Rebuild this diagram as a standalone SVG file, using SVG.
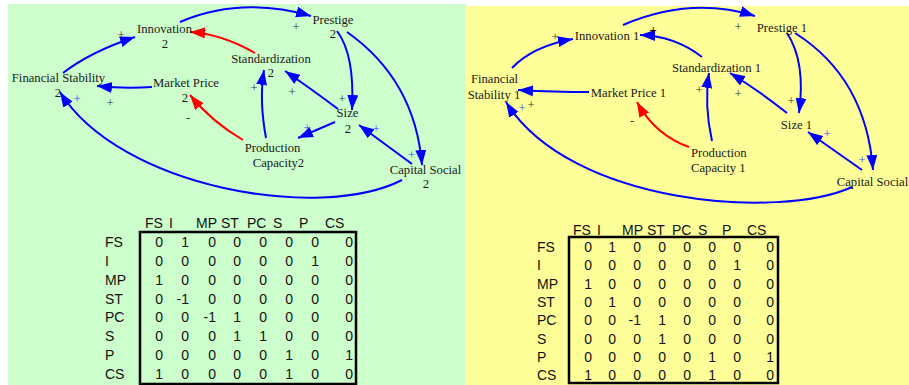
<svg xmlns="http://www.w3.org/2000/svg" width="909" height="385" viewBox="0 0 909 385">
<style>
.lbl{font-family:"Liberation Serif","Times New Roman",serif;font-size:12.7px;fill:#1a1a1a;text-anchor:middle}
.pm{font-family:"Liberation Serif","Times New Roman",serif;font-size:12.7px;fill:#333;text-anchor:middle}
.pmb{font-family:"Liberation Serif","Times New Roman",serif;font-size:12.7px;fill:#3a3aff;text-anchor:middle}
.b{fill:none;stroke:#0000ff;stroke-width:2;marker-end:url(#ab)}
.r{fill:none;stroke:#ff0000;stroke-width:2;marker-end:url(#ar)}
.mx{font-family:"Liberation Sans",Arial,sans-serif;font-size:14px;fill:#111}
.num tspan{text-anchor:end}
.box{fill:none;stroke:#000;stroke-width:2.5}
</style>
<defs>
<marker id="ab" markerUnits="userSpaceOnUse" markerWidth="15" markerHeight="11" refX="15" refY="5.5" orient="auto"><path d="M0,0 L15,5.5 L0,11 z" fill="#0000ff"/></marker>
<marker id="ar" markerUnits="userSpaceOnUse" markerWidth="15" markerHeight="11" refX="15" refY="5.5" orient="auto"><path d="M0,0 L15,5.5 L0,11 z" fill="#ff0000"/></marker>
</defs>
<rect x="0" y="0" width="909" height="385" fill="#ffffff"/>
<rect x="8" y="4" width="458" height="381" fill="#ccffcc"/>
<rect x="465" y="6" width="444" height="379" fill="#ffff99"/>

<!-- LEFT DIAGRAM -->
<g id="left-connectors">
<path class="b" d="M63,73 Q90,52 135,37"/>
<path class="b" d="M152,87 Q125,89 97,86"/>
<path class="r" d="M255,53 Q222,34 190,32"/>
<path class="b" d="M180,22 Q241,-4 311,16"/>
<path class="b" d="M337,31 Q355,55 352,110"/>
<path class="b" d="M347,32 Q415,80 422,165"/>
<path class="b" d="M338,109 Q310,88 285,71"/>
<path class="b" d="M266,138 Q259,100 264,70"/>
<path class="b" d="M335,122 L298,138"/>
<path class="r" d="M243,140 Q212,122 190,95"/>
<path class="b" d="M412,164 L359,125"/>
<path class="b" d="M402,180 C320,222 120,188 60,92"/>
</g>
<g id="l-innovation"><text class="lbl" x="164.5" y="33">Innovation</text><text class="lbl" x="165" y="48">2</text></g>
<g id="l-financial-stability"><text class="lbl" x="58.5" y="82">Financial Stability</text><text class="lbl" x="58" y="97">2</text></g>
<g id="l-market-price"><text class="lbl" x="186" y="87">Market Price</text><text class="lbl" x="185" y="102">2</text></g>
<g id="l-prestige"><text class="lbl" x="333" y="24">Prestige</text><text class="lbl" x="333" y="38">2</text></g>
<g id="l-standardization"><text class="lbl" x="271" y="63">Standardization</text><text class="lbl" x="271" y="77">2</text></g>
<g id="l-size"><text class="lbl" x="347.5" y="117">Size</text><text class="lbl" x="348" y="133">2</text></g>
<g id="l-production-capacity"><text class="lbl" x="272.5" y="152">Production</text><text class="lbl" x="278.5" y="167">Capacity2</text></g>
<g id="l-capital-social"><text class="lbl" x="425.5" y="174">Capital Social</text><text class="lbl" x="426" y="188">2</text></g>
<g id="l-signs">
<text class="pm" x="121" y="39">+</text>
<text class="pm" x="204" y="33">-</text>
<text class="pm" x="296" y="31">+</text>
<text class="pm" x="254" y="92">+</text>
<text class="pm" x="292" y="96">+</text>
<text class="pm" x="342" y="103">+</text>
<text class="pm" x="110" y="107">+</text>
<text class="pmb" x="77" y="103">+</text>
<text class="pm" x="188" y="121">-</text>
<text class="pmb" x="307" y="132">+</text>
<text class="pmb" x="376" y="133">+</text>
<text class="pmb" x="411.5" y="159">+</text>
</g>

<!-- RIGHT DIAGRAM -->
<g id="right-connectors">
<path class="b" d="M512,68 Q533,46 573,39"/>
<path class="b" d="M589,92 Q555,92 518,90"/>
<path class="b" d="M702,57 Q675,36 640,35"/>
<path class="b" d="M623,25 Q691,-4 755,16"/>
<path class="b" d="M787,33 Q806,62 799,113"/>
<path class="b" d="M795,33 Q866,78 873,170"/>
<path class="b" d="M787,113 Q758,90 730,73"/>
<path class="b" d="M712,141 Q704,105 709,73"/>
<path class="r" d="M689,147 Q655,135 637,102"/>
<path class="b" d="M862,170 L808,132"/>
<path class="b" d="M852,187 C780,220 570,205 506,102"/>
</g>
<g id="r-innovation"><text class="lbl" x="607" y="40">Innovation 1</text></g>
<g id="r-financial-stability"><text class="lbl" x="494.5" y="83">Financial</text><text class="lbl" x="494" y="99">Stability 1</text></g>
<g id="r-market-price"><text class="lbl" x="628.5" y="97">Market Price 1</text></g>
<g id="r-prestige"><text class="lbl" x="782" y="32">Prestige 1</text></g>
<g id="r-standardization"><text class="lbl" x="716.5" y="72">Standardization 1</text></g>
<g id="r-size"><text class="lbl" x="796.5" y="129">Size 1</text></g>
<g id="r-production-capacity"><text class="lbl" x="691" y="157" style="text-anchor:start">Production</text><text class="lbl" x="691" y="172" style="text-anchor:start">Capacity 1</text></g>
<g id="r-capital-social"><text class="lbl" x="872.5" y="186">Capital Social</text></g>
<g id="r-signs">
<text class="pm" x="555" y="41">+</text>
<text class="pm" x="653" y="34" style="font-weight:bold;fill:#111">+</text>
<text class="pm" x="738" y="31">+</text>
<text class="pmb" x="522" y="112">+</text>
<text class="pm" x="531" y="109">+</text>
<text class="pm" x="632" y="124">-</text>
<text class="pm" x="699" y="94">+</text>
<text class="pm" x="738" y="98">+</text>
<text class="pm" x="791" y="105">+</text>
<text class="pmb" x="827" y="138">+</text>
<text class="pmb" x="862" y="164">+</text>
</g>

<!-- LEFT MATRIX -->
<g id="left-matrix" class="mx">
<rect class="box" x="140" y="232" width="216" height="152"/>
<text y="228"><tspan x="145">FS</tspan><tspan x="169">I</tspan><tspan x="196">MP</tspan><tspan x="221">ST</tspan><tspan x="247">PC</tspan><tspan x="273">S</tspan><tspan x="299">P</tspan><tspan x="325">CS</tspan></text>
<text x="105" y="247">FS</text>
<text x="105" y="265.9">I</text>
<text x="105" y="284.7">MP</text>
<text x="105" y="303.6">ST</text>
<text x="105" y="322.4">PC</text>
<text x="105" y="341.3">S</text>
<text x="105" y="360.2">P</text>
<text x="105" y="379">CS</text>
<text class="num" y="247"><tspan x="163">0</tspan><tspan x="189">1</tspan><tspan x="216">0</tspan><tspan x="241">0</tspan><tspan x="267">0</tspan><tspan x="293">0</tspan><tspan x="319">0</tspan><tspan x="353">0</tspan></text>
<text class="num" y="265.9"><tspan x="163">0</tspan><tspan x="189">0</tspan><tspan x="216">0</tspan><tspan x="241">0</tspan><tspan x="267">0</tspan><tspan x="293">0</tspan><tspan x="319">1</tspan><tspan x="353">0</tspan></text>
<text class="num" y="284.7"><tspan x="163">1</tspan><tspan x="189">0</tspan><tspan x="216">0</tspan><tspan x="241">0</tspan><tspan x="267">0</tspan><tspan x="293">0</tspan><tspan x="319">0</tspan><tspan x="353">0</tspan></text>
<text class="num" y="303.6"><tspan x="163">0</tspan><tspan x="189">-1</tspan><tspan x="216">0</tspan><tspan x="241">0</tspan><tspan x="267">0</tspan><tspan x="293">0</tspan><tspan x="319">0</tspan><tspan x="353">0</tspan></text>
<text class="num" y="322.4"><tspan x="163">0</tspan><tspan x="189">0</tspan><tspan x="216">-1</tspan><tspan x="241">1</tspan><tspan x="267">0</tspan><tspan x="293">0</tspan><tspan x="319">0</tspan><tspan x="353">0</tspan></text>
<text class="num" y="341.3"><tspan x="163">0</tspan><tspan x="189">0</tspan><tspan x="216">0</tspan><tspan x="241">1</tspan><tspan x="267">1</tspan><tspan x="293">0</tspan><tspan x="319">0</tspan><tspan x="353">0</tspan></text>
<text class="num" y="360.2"><tspan x="163">0</tspan><tspan x="189">0</tspan><tspan x="216">0</tspan><tspan x="241">0</tspan><tspan x="267">0</tspan><tspan x="293">1</tspan><tspan x="319">0</tspan><tspan x="353">1</tspan></text>
<text class="num" y="379"><tspan x="163">1</tspan><tspan x="189">0</tspan><tspan x="216">0</tspan><tspan x="241">0</tspan><tspan x="267">0</tspan><tspan x="293">1</tspan><tspan x="319">0</tspan><tspan x="353">0</tspan></text>
</g>

<!-- RIGHT MATRIX -->
<g id="right-matrix" class="mx">
<rect class="box" x="569" y="237" width="209" height="146"/>
<text y="235"><tspan x="573">FS</tspan><tspan x="597">I</tspan><tspan x="622">MP</tspan><tspan x="647">ST</tspan><tspan x="672">PC</tspan><tspan x="698">S</tspan><tspan x="722">P</tspan><tspan x="747">CS</tspan></text>
<text x="537" y="252">FS</text>
<text x="537" y="270.3">I</text>
<text x="537" y="288.6">MP</text>
<text x="537" y="306.9">ST</text>
<text x="537" y="325.2">PC</text>
<text x="537" y="343.5">S</text>
<text x="537" y="361.8">P</text>
<text x="537" y="380">CS</text>
<text class="num" y="252"><tspan x="592">0</tspan><tspan x="616">1</tspan><tspan x="641">0</tspan><tspan x="666">0</tspan><tspan x="691">0</tspan><tspan x="716">0</tspan><tspan x="741">0</tspan><tspan x="774">0</tspan></text>
<text class="num" y="270.3"><tspan x="592">0</tspan><tspan x="616">0</tspan><tspan x="641">0</tspan><tspan x="666">0</tspan><tspan x="691">0</tspan><tspan x="716">0</tspan><tspan x="741">1</tspan><tspan x="774">0</tspan></text>
<text class="num" y="288.6"><tspan x="592">1</tspan><tspan x="616">0</tspan><tspan x="641">0</tspan><tspan x="666">0</tspan><tspan x="691">0</tspan><tspan x="716">0</tspan><tspan x="741">0</tspan><tspan x="774">0</tspan></text>
<text class="num" y="306.9"><tspan x="592">0</tspan><tspan x="616">1</tspan><tspan x="641">0</tspan><tspan x="666">0</tspan><tspan x="691">0</tspan><tspan x="716">0</tspan><tspan x="741">0</tspan><tspan x="774">0</tspan></text>
<text class="num" y="325.2"><tspan x="592">0</tspan><tspan x="616">0</tspan><tspan x="641">-1</tspan><tspan x="666">1</tspan><tspan x="691">0</tspan><tspan x="716">0</tspan><tspan x="741">0</tspan><tspan x="774">0</tspan></text>
<text class="num" y="343.5"><tspan x="592">0</tspan><tspan x="616">0</tspan><tspan x="641">0</tspan><tspan x="666">1</tspan><tspan x="691">0</tspan><tspan x="716">0</tspan><tspan x="741">0</tspan><tspan x="774">0</tspan></text>
<text class="num" y="361.8"><tspan x="592">0</tspan><tspan x="616">0</tspan><tspan x="641">0</tspan><tspan x="666">0</tspan><tspan x="691">0</tspan><tspan x="716">1</tspan><tspan x="741">0</tspan><tspan x="774">1</tspan></text>
<text class="num" y="380"><tspan x="592">1</tspan><tspan x="616">0</tspan><tspan x="641">0</tspan><tspan x="666">0</tspan><tspan x="691">0</tspan><tspan x="716">1</tspan><tspan x="741">0</tspan><tspan x="774">0</tspan></text>
</g>
</svg>
